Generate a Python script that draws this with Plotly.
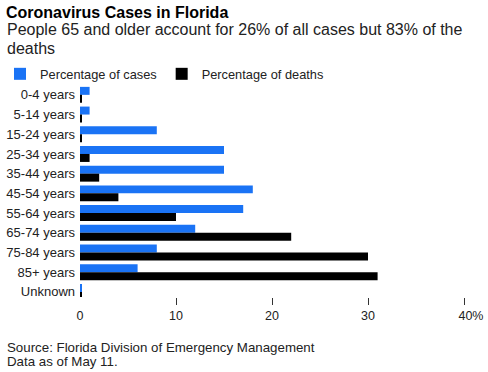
import plotly.graph_objects as go

categories = ["0-4 years", "5-14 years", "15-24 years", "25-34 years", "35-44 years",
              "45-54 years", "55-64 years", "65-74 years", "75-84 years", "85+ years", "Unknown"]
cases = [1, 1, 8, 15, 15, 18, 17, 12, 8, 6, 0.2]
deaths = [0.2, 0.2, 0.2, 1, 2, 4, 10, 22, 30, 31, 0.2]
tick_vals = [10, 20, 30, 40]
tick_text = ["10", "20", "30", "\u00a0\u00a0\u00a0\u00a040%"]
zero_vals = [0]
zero_text = ["0"]

FONT = "Liberation Sans, Arial, sans-serif"
W, H = 488, 372
ML, MR, MT, MB = 80, 24, 85, 75
ph = H - MT - MB

def py(pix):
    return (H - MB - pix) / ph

def px(pix):
    return (pix - ML) / (W - ML - MR)

fig = go.Figure()
fig.add_trace(go.Bar(y=categories, x=cases, orientation="h", name="Percentage of cases",
                     marker=dict(color="#1a73f5", line=dict(width=0))))
fig.add_trace(go.Bar(y=categories, x=deaths, orientation="h", name="Percentage of deaths",
                     marker=dict(color="#000000", line=dict(width=0))))
fig.add_trace(go.Scatter(x=[], y=[], xaxis="x2", showlegend=False, hoverinfo="skip"))

axis_common = dict(range=[0, 40], showgrid=False, zeroline=False, showline=False,
                   ticks="outside", ticklen=7, tickwidth=1,
                   tickfont=dict(size=12.5, color="#222"), fixedrange=True)

fig.update_layout(
    width=W, height=H,
    margin=dict(l=ML, r=MR, t=MT, b=MB, autoexpand=False),
    paper_bgcolor="white", plot_bgcolor="white",
    font=dict(family=FONT, size=12, color="#222"),
    barmode="group", bargap=0.19, bargroupgap=0,
    title=dict(text="<b>Coronavirus Cases in Florida</b>", x=6 / W, xanchor="left",
               xref="container", y=1 - 12 / H, yanchor="middle", yref="container",
               font=dict(size=16, color="#000", family=FONT)),
    legend=dict(orientation="h", x=0, xanchor="left", xref="container",
                y=1 - 74 / H, yanchor="middle", yref="container",
                font=dict(size=12.8, color="#222"), traceorder="normal",
                bgcolor="rgba(0,0,0,0)"),
    xaxis=dict(tickvals=tick_vals, ticktext=tick_text, tickcolor="#333", **axis_common),
    xaxis2=dict(overlaying="x", anchor="y", side="bottom", tickvals=zero_vals,
                ticktext=zero_text, tickcolor="rgba(0,0,0,0)", **axis_common),
    yaxis=dict(autorange=False, range=[10.26, -0.5], showgrid=False, zeroline=False,
               showline=False, ticks="", tickfont=dict(size=13, color="#222"),
               ticklabelstandoff=4, fixedrange=True),
    showlegend=True,
)

sub_lines = ["People 65 and older account for 26% of all cases but 83% of the", "deaths"]
for i, line in enumerate(sub_lines):
    fig.add_annotation(text=line, xref="paper", yref="paper", x=px(5), y=py(30 + 18 * i),
                       xanchor="left", yanchor="middle", align="left", showarrow=False,
                       font=dict(size=16, color="#222", family=FONT))
src_lines = ["Source: Florida Division of Emergency Management", "Data as of May 11."]
for i, line in enumerate(src_lines):
    fig.add_annotation(text=line, xref="paper", yref="paper", x=px(5), y=py(347 + 14 * i),
                       xanchor="left", yanchor="middle", align="left", showarrow=False,
                       font=dict(size=13.3, color="#222", family=FONT))

fig.write_html("out.html", config={"displayModeBar": False},
               post_script="document.body.style.margin='0';")
